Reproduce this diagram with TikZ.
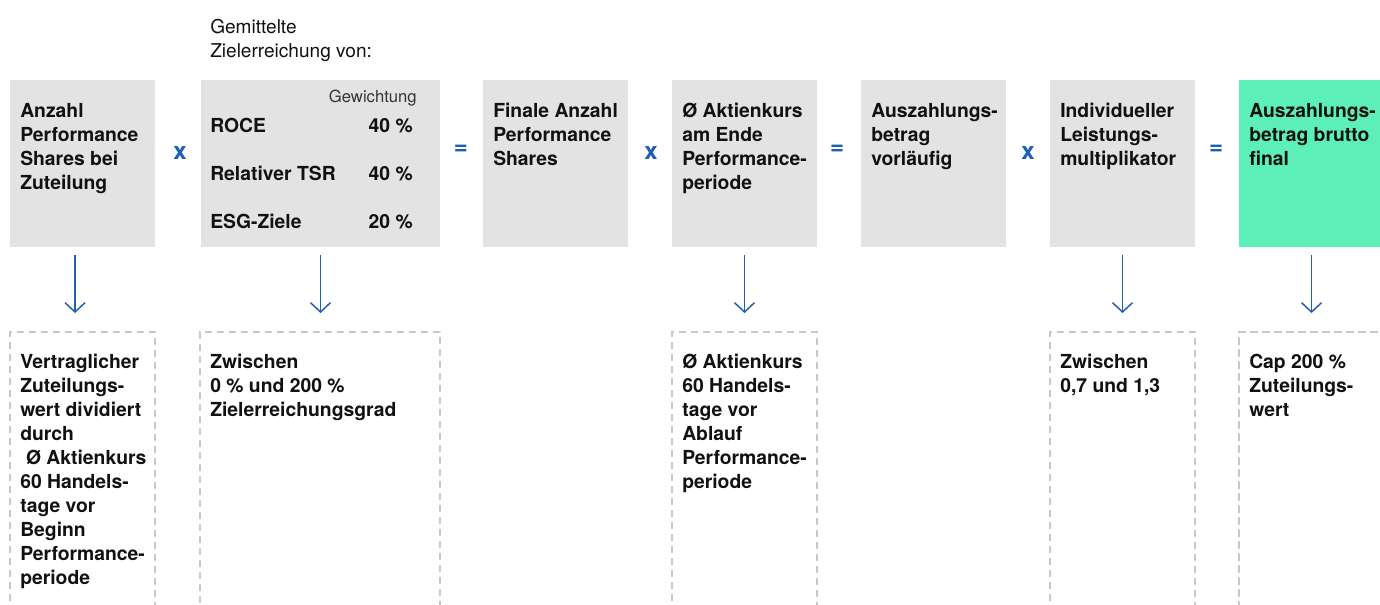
\documentclass[tikz,border=0pt]{standalone}
\usepackage{fontspec}
\setmainfont{TeX Gyre Heros}
\usetikzlibrary{arrows.meta}
\definecolor{boxgray}{HTML}{E3E3E3}
\definecolor{boxgreen}{HTML}{5CF0B8}
\definecolor{opblue}{HTML}{1F5FAF}
\definecolor{dashgray}{HTML}{C8C8C8}
\definecolor{txt}{HTML}{111111}
\begin{document}
\begin{tikzpicture}[x=0.75pt,y=-0.75pt,
  box/.style={rectangle, fill=boxgray, inner sep=0pt, outer sep=0pt, anchor=north west, minimum width=108.75pt, minimum height=125.25pt},
  widebox/.style={box, minimum width=179.25pt},
  greenbox/.style={box, fill=boxgreen},
  dbox/.style={rectangle, draw=dashgray, line width=1.5pt, dash pattern=on 5.5pt off 3.5pt, inner sep=0pt, outer sep=0pt, anchor=north west, minimum width=108.75pt, minimum height=225pt},
  wdbox/.style={dbox, minimum width=180pt},
  lbl/.style={anchor=north west, inner sep=0pt, align=left, font=\fontsize{14.5}{18}\selectfont\bfseries, text=txt},
  lblb/.style={anchor=base west, inner sep=0pt, font=\fontsize{14.5}{18}\selectfont\bfseries, text=txt},
  pct/.style={lblb, anchor=base east},
  plain/.style={anchor=north west, inner sep=0pt, align=left, font=\fontsize{14.3}{18}\selectfont, text=txt},
  small/.style={anchor=base east, inner sep=0pt, font=\fontsize{12.5}{15}\selectfont, text=txt!85},
  op/.style={text=opblue, font=\fontsize{18}{18}\selectfont\bfseries, inner sep=0pt},
  arr/.style={draw=opblue, line width=1.1pt, -{Straight Barb[length=7pt,width=15pt]}, shorten <=6pt, shorten >=14.25pt}
]
\useasboundingbox (0,0) rectangle (1380,604);
\clip (0,0) rectangle (1380,604);

% header
\node[plain] (hd) at (210,19) {Gemittelte\\Zielerreichung von:};

% top boxes
\node[box] (b1) at (10,80) {};
\node[widebox] (b2) at (201,80) {};
\node[box] (b3) at (483,80) {};
\node[box] (b4) at (672,80) {};
\node[box] (b5) at (861,80) {};
\node[box] (b6) at (1050,80) {};
\node[greenbox, minimum width=111pt] (b7) at (1239,80) {};

\node[lbl] (t1) at (20,103) {Anzahl\\Performance\\Shares bei\\Zuteilung};
\node[lbl] (t3) at (493,103) {Finale Anzahl\\Performance\\Shares};
\node[lbl] (t4) at (682,103) {Ø Aktienkurs\\am Ende\\Performance-\\periode};
\node[lbl] (t5) at (871,103) {Auszahlungs-\\betrag\\vorläufig};
\node[lbl] (t6) at (1060,103) {Individueller\\Leistungs-\\multiplikator};
\node[lbl] (t7) at (1249,103) {Auszahlungs-\\betrag brutto\\final};

% weighting box contents
\node[small] (gw) at (417,102) {Gewichtung};
\node[lblb] (r1) at (210,132) {ROCE};
\node[pct] (p1) at (413,132) {40 \%};
\node[lblb] (r2) at (210,180) {Relativer TSR};
\node[pct] (p2) at (413,180) {40 \%};
\node[lblb] (r3) at (210,228) {ESG-Ziele};
\node[pct] (p3) at (413,228) {20 \%};

% operators
\node[op] (o1) at (180,153) {x};
\node[op] (o2) at (461,150) {=};
\node[op] (o3) at (651,153) {x};
\node[op] (o4) at (837,150) {=};
\node[op] (o5) at (1028,153) {x};
\node[op] (o6) at (1216,150) {=};

% dashed boxes
\node[dbox] (d1) at (10,332) {};
\node[wdbox] (d2) at (200,332) {};
\node[dbox] (d4) at (672,332) {};
\node[dbox] (d6) at (1050,332) {};
\node[dbox, minimum width=115pt] (d7) at (1239,332) {};

\node[lbl] (u1) at (20,354) {Vertraglicher\\Zuteilungs-\\wert dividiert\\durch\\\hspace*{0.3em}Ø Aktienkurs\\60 Handels-\\tage vor\\Beginn\\Performance-\\periode};
\node[lbl] (u2) at (210,354) {Zwischen\\0 \% und 200 \%\\Zielerreichungsgrad};
\node[lbl] (u4) at (682,354) {Ø Aktienkurs\\60 Handels-\\tage vor\\Ablauf\\Performance-\\periode};
\node[lbl] (u6) at (1060,354) {Zwischen\\0,7 und 1,3};
\node[lbl] (u7) at (1249,354) {Cap 200 \%\\Zuteilungs-\\wert};

% arrows
\draw[arr] ([xshift=-5.6pt]b1.south) -- ([xshift=-5.6pt]d1.north);
\draw[arr] (b2.south) -- (b2.south |- d2.north);
\draw[arr] (b4.south) -- (b4.south |- d4.north);
\draw[arr] (b6.south) -- (b6.south |- d6.north);
\draw[arr] ([xshift=-1.1pt]b7.south) -- ([xshift=-1.1pt]b7.south |- d7.north);
\end{tikzpicture}
\end{document}
